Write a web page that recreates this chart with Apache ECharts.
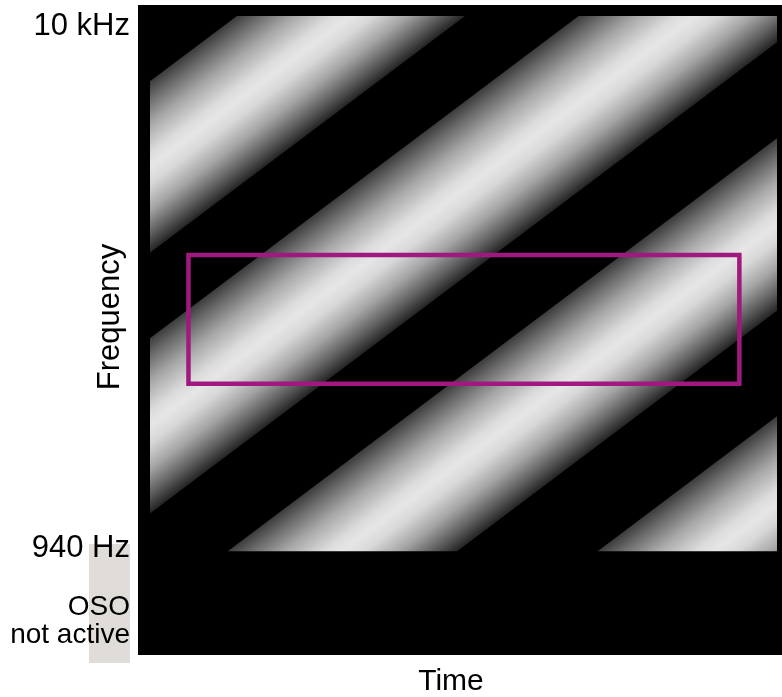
<!DOCTYPE html>
<html><head><meta charset="utf-8">
<script src="https://cdn.jsdelivr.net/npm/echarts@6/dist/echarts.min.js"></script>
<style>html,body{margin:0;padding:0;background:#fff}#c{width:782px;height:697px}</style>
</head><body><div id="c"></div>
<script>
// ---- data (time is normalised: the OSO-active stimulus spans 0..1) ----
const stimTime = [0, 1];
const stimFreq = [940, 10000];            // Hz, OSO active band
const axisTime = [-0.0191, 1.008];
const axisFreq = [594, 10500];
// ripple bands: time of leading edge / trailing edge at 940 Hz
const bandStart = [-0.997, -0.452, 0.124, 0.714];
const bandEnd   = [-0.633, -0.080, 0.490, 1.085];
const sweepShift = 1.1356;                // time shift of a band from 940 Hz to 10 kHz
const boxTime = [0.0614, 0.940];
const boxFreq = [1970, 3480];
const freqTickValues = [10000, 940];
const freqTickLabels = ['10 kHz', '940 Hz'];

const FONT = '"Liberation Sans", Arial, sans-serif';
const stops = [
  {offset:0, color:'#3c3c3c'},{offset:0.1, color:'#6a6a6a'},{offset:0.25, color:'#a8a8a8'},
  {offset:0.42, color:'#dcdcdc'},{offset:0.5, color:'#e6e6e6'},{offset:0.6, color:'#d8d8d8'},
  {offset:0.75, color:'#a4a4a4'},{offset:0.9, color:'#5a5a5a'},{offset:1, color:'#242424'}
];

function clipPoly(pts, x0, y0, x1, y1) {
  const edges = [
    p => p[0] >= x0, p => p[0] <= x1, p => p[1] >= y0, p => p[1] <= y1
  ];
  const inter = [
    (a,b) => { const t=(x0-a[0])/(b[0]-a[0]); return [x0, a[1]+t*(b[1]-a[1])]; },
    (a,b) => { const t=(x1-a[0])/(b[0]-a[0]); return [x1, a[1]+t*(b[1]-a[1])]; },
    (a,b) => { const t=(y0-a[1])/(b[1]-a[1]); return [a[0]+t*(b[0]-a[0]), y0]; },
    (a,b) => { const t=(y1-a[1])/(b[1]-a[1]); return [a[0]+t*(b[0]-a[0]), y1]; }
  ];
  let out = pts;
  for (let e = 0; e < 4; e++) {
    const inp = out; out = [];
    for (let i = 0; i < inp.length; i++) {
      const a = inp[(i + inp.length - 1) % inp.length], b = inp[i];
      const ina = edges[e](a), inb = edges[e](b);
      if (inb) { if (!ina) out.push(inter[e](a,b)); out.push(b); }
      else if (ina) out.push(inter[e](a,b));
    }
    if (!out.length) break;
  }
  return out;
}

function renderBand(params, api) {
  const t0 = api.value(0), t1 = api.value(1);
  const pA = api.coord([t0, stimFreq[0]]);
  const pB = api.coord([t1, stimFreq[0]]);
  const pC = api.coord([t1 + sweepShift, stimFreq[1]]);
  const pD = api.coord([t0 + sweepShift, stimFreq[1]]);
  const r0 = api.coord([stimTime[0], stimFreq[1]]);
  const r1 = api.coord([stimTime[1], stimFreq[0]]);
  const poly = clipPoly([pA, pB, pC, pD], r0[0], r0[1], r1[0], r1[1]);
  if (poly.length < 3) return;
  const dx = pD[0]-pA[0], dy = pD[1]-pA[1], len = Math.hypot(dx, dy);
  let nx = -dy/len, ny = dx/len;
  let proj = (pB[0]-pA[0])*nx + (pB[1]-pA[1])*ny;
  if (proj < 0) { nx = -nx; ny = -ny; proj = -proj; }
  return {
    type: 'polygon', shape: { points: poly },
    style: { fill: { type:'linear', x:pA[0], y:pA[1], x2:pA[0]+nx*proj, y2:pA[1]+ny*proj, global:true, colorStops:stops } }
  };
}

function renderBox(params, api) {
  const p0 = api.coord([api.value(0), api.value(3)]);
  const p1 = api.coord([api.value(1), api.value(2)]);
  return { type:'rect', shape:{ x:p0[0], y:p0[1], width:p1[0]-p0[0], height:p1[1]-p0[1] },
    style:{ fill:'none', stroke:'#a0197e', lineWidth:4.5 } };
}

function renderFreqLabel(params, api) {
  const p = api.coord([axisTime[0], api.value(1)]);
  const first = params.dataIndex === 0;
  return { type:'text', x: p[0] - 8, y: p[1] + (first ? -5 : -3),
    style:{ text: freqTickLabels[params.dataIndex], font: '31px ' + FONT, fill:'#000',
      align:'right', verticalAlign: first ? 'top' : 'middle' } };
}

const chart = echarts.init(document.getElementById('c'), null, { renderer: 'canvas' });
chart.setOption({
  animation: false,
  backgroundColor: '#fff',
  grid: { left: 138, top: 5, right: 0, bottom: 42, show: true, backgroundColor: '#000', borderWidth: 0 },
  xAxis: { type:'value', min: axisTime[0], max: axisTime[1], show: false },
  yAxis: { type:'log', min: axisFreq[0], max: axisFreq[1], show: false },
  graphic: [
    { type:'rect', left: 89, top: 544, shape:{ width: 41, height: 119 }, style:{ fill:'#e0ddd9' }, z: 0 },
    { type:'text', x: 130, y: 607, z: 10, style:{ text:'OSO', font:'28px ' + FONT, fill:'#000', align:'right', verticalAlign:'middle' } },
    { type:'text', x: 130, y: 635, z: 10, style:{ text:'not active', font:'28px ' + FONT, fill:'#000', align:'right', verticalAlign:'middle' } },
    { type:'text', x: 110, y: 317, rotation: Math.PI/2, z: 10, style:{ text:'Frequency', font:'31px ' + FONT, fill:'#000', align:'center', verticalAlign:'middle' } },
    { type:'text', x: 451, y: 682, z: 10, style:{ text:'Time', font:'30px ' + FONT, fill:'#000', align:'center', verticalAlign:'middle' } }
  ],
  series: [
    { type:'custom', renderItem: renderBand, clip: false, z: 2,
      encode: { x:[0,1], y:2 },
      data: bandStart.map((s, i) => [s, bandEnd[i], stimFreq[0]]) },
    { type:'custom', renderItem: renderBox, clip: false, z: 3,
      encode: { x:[0,1], y:[2,3] },
      data: [[boxTime[0], boxTime[1], boxFreq[0], boxFreq[1]]] },
    { type:'custom', renderItem: renderFreqLabel, clip: false, z: 4,
      encode: { x:0, y:1 },
      data: freqTickValues.map(f => [axisTime[0], f]) }
  ]
});
</script></body></html>
